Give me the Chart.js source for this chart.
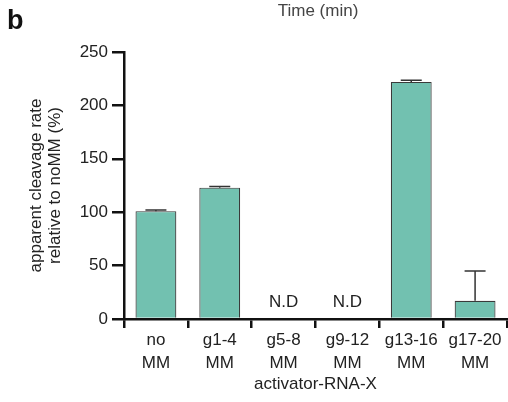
<!DOCTYPE html>
<html>
<head>
<meta charset="utf-8">
<script src="https://cdn.jsdelivr.net/npm/chart.js@4"></script>
<style>
  body { margin: 0; background: #fff; }
  canvas { display: block; }
</style>
</head>
<body>
<canvas id="chart" width="508" height="402"></canvas>
<script>
const categories = [['no', 'MM'], ['g1-4', 'MM'], ['g5-8', 'MM'], ['g9-12', 'MM'], ['g13-16', 'MM'], ['g17-20', 'MM']];
const rates = [101, 123, 0, 0, 222, 17];
const errors = [1, 1, 0, 0, 1.5, 28];
const notDetected = [false, false, true, true, false, false];
const yTicks = [0, 50, 100, 150, 200, 250];

const FONT = 'Liberation Sans, Arial, sans-serif';

// upper-only error bars, N.D marks, panel letter and stray heading
const extras = {
    id: 'extras',
    afterDatasetsDraw(chart) {
        const ctx = chart.ctx;
        const meta = chart.getDatasetMeta(0);
        const y = chart.scales.y;
        ctx.save();
        ctx.strokeStyle = '#333';
        ctx.lineWidth = 1.5;
        meta.data.forEach((bar, i) => {
            if (!errors[i]) return;
            const top = y.getPixelForValue(rates[i] + errors[i]);
            const base = y.getPixelForValue(rates[i]);
            ctx.beginPath();
            ctx.moveTo(bar.x, base);
            ctx.lineTo(bar.x, top);
            ctx.moveTo(bar.x - 10.5, top);
            ctx.lineTo(bar.x + 10.5, top);
            ctx.stroke();
        });
        ctx.fillStyle = '#222';
        ctx.font = '17px ' + FONT;
        ctx.textAlign = 'center';
        ctx.textBaseline = 'middle';
        meta.data.forEach((bar, i) => {
            if (notDetected[i]) ctx.fillText('N.D', bar.x, y.getPixelForValue(16));
        });
        ctx.fillStyle = '#444';
        ctx.font = '17px ' + FONT;
        ctx.fillText('Time (min)', 318, 11);
        ctx.fillStyle = '#111';
        ctx.font = 'bold 27px ' + FONT;
        ctx.textAlign = 'left';
        ctx.fillText('b', 7, 22);
        ctx.restore();
    }
};

new Chart(document.getElementById('chart'), {
    type: 'bar',
    data: {
        labels: categories,
        datasets: [{
            data: rates,
            backgroundColor: '#72c1b0',
            borderColor: '#3a3a3a',
            borderWidth: 1.2,
            barPercentage: 0.64,
            categoryPercentage: 1.0
        }]
    },
    options: {
        responsive: false,
        animation: false,
        layout: { padding: { top: 52, right: 1, left: 0, bottom: 0 } },
        plugins: { legend: { display: false }, tooltip: { enabled: false } },
        scales: {
            x: {
                grid: { drawOnChartArea: false, drawTicks: true, tickLength: 9, color: '#111', lineWidth: 2.5 },
                border: { color: '#111', width: 2.5 },
                ticks: { color: '#222', font: { family: FONT, size: 17, lineHeight: 1.35 }, padding: 1, maxRotation: 0, autoSkip: false },
                title: { display: true, text: 'activator-RNA-X', color: '#222', font: { family: FONT, size: 17, lineHeight: 1.2 }, padding: { top: 0, bottom: 7 } },
                afterFit(scale) { scale.height = 83; }
            },
            y: {
                min: 0,
                max: 250,
                afterBuildTicks(scale) { scale.ticks = yTicks.map(v => ({ value: v })); },
                grid: { drawOnChartArea: false, drawTicks: true, tickLength: 12, color: '#111', lineWidth: 2.5 },
                border: { color: '#111', width: 2.5 },
                ticks: { color: '#222', font: { family: FONT, size: 17 }, padding: 4 },
                title: { display: true, text: ['apparent cleavage rate', 'relative to noMM (%)'], color: '#222', font: { family: FONT, size: 17, lineHeight: 1.1 }, padding: { top: 27, bottom: 0 } },
                afterFit(scale) { scale.width = 124; }
            }
        }
    },
    plugins: [extras]
});
</script>
</body>
</html>
